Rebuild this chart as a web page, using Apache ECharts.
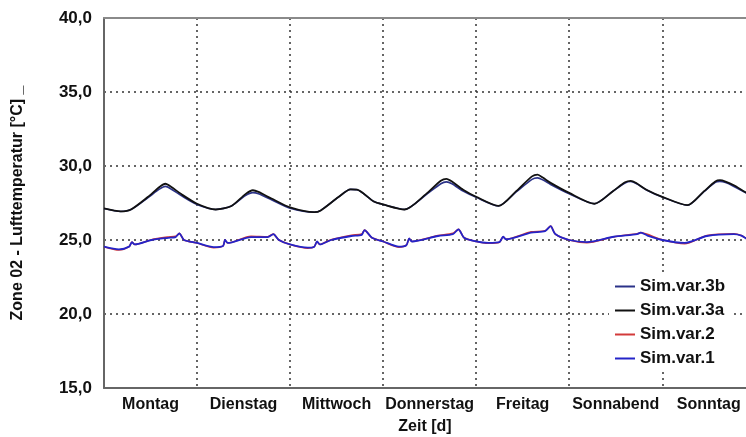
<!DOCTYPE html>
<html>
<head>
<meta charset="utf-8">
<script src="https://cdn.jsdelivr.net/npm/echarts@6/dist/echarts.min.js"></script>
<style>
html,body{margin:0;padding:0;background:#fff;}
#chart{width:746px;height:437px;}
</style>
</head>
<body>
<div id="chart"></div>
<script>
const days = ['Montag','Dienstag','Mittwoch','Donnerstag','Freitag','Sonnabend','Sonntag'];
const yTicks = [15, 20, 25, 30, 35, 40];
const visibleDays = 6.9; // the plot is cut off by the right edge of the picture
const seriesNames = ['Sim.var.3b','Sim.var.3a','Sim.var.2','Sim.var.1'];

const timeUpper = [0, 0.18, 0.29, 0.47, 0.60, 0.66, 0.72, 0.83, 1.00, 1.20, 1.37, 1.52, 1.60, 1.66, 1.80, 2.00, 2.26, 2.33, 2.52, 2.65, 2.72, 2.90, 3.00, 3.23, 3.46, 3.62, 3.68, 3.74, 3.86, 4.00, 4.24, 4.43, 4.60, 4.66, 4.72, 4.80, 5.00, 5.27, 5.47, 5.60, 5.66, 5.72, 5.83, 6.00, 6.27, 6.45, 6.57, 6.62, 6.68, 6.77, 6.91, 7.00];
const var3a = [27.13, 26.93, 27.06, 27.9, 28.6, 28.8, 28.6, 28.1, 27.45, 27.06, 27.3, 28.1, 28.36, 28.25, 27.8, 27.2, 26.88, 27.0, 27.9, 28.42, 28.4, 27.6, 27.4, 27.06, 28.1, 29.0, 29.13, 28.95, 28.4, 27.92, 27.3, 28.3, 29.3, 29.42, 29.2, 28.86, 28.18, 27.45, 28.3, 28.9, 29.0, 28.85, 28.4, 27.92, 27.35, 28.3, 28.95, 29.04, 28.95, 28.7, 28.18, 27.95];
const var3b = [27.13, 26.93, 27.06, 27.85, 28.45, 28.62, 28.45, 28.0, 27.4, 27.06, 27.3, 28.0, 28.2, 28.12, 27.72, 27.15, 26.88, 27.0, 27.9, 28.42, 28.4, 27.6, 27.4, 27.06, 28.05, 28.8, 28.93, 28.8, 28.3, 27.88, 27.3, 28.25, 29.1, 29.2, 29.05, 28.75, 28.12, 27.45, 28.3, 28.85, 28.95, 28.82, 28.38, 27.9, 27.35, 28.28, 28.9, 28.95, 28.88, 28.62, 28.15, 27.95];

const timeLower = [0.00, 0.16, 0.27, 0.30, 0.33, 0.51, 0.69, 0.77, 0.81, 0.86, 1.00, 1.18, 1.28, 1.30, 1.33, 1.58, 1.76, 1.82, 1.88, 2.00, 2.19, 2.26, 2.29, 2.32, 2.44, 2.66, 2.77, 2.80, 2.88, 3.00, 3.17, 3.25, 3.28, 3.31, 3.59, 3.75, 3.81, 3.87, 4.00, 4.13, 4.25, 4.29, 4.32, 4.59, 4.74, 4.80, 4.85, 5.00, 5.19, 5.48, 5.73, 5.77, 5.84, 6.00, 6.24, 6.48, 6.77, 6.85, 6.91, 7.00];
const var1 = [24.55, 24.37, 24.55, 24.86, 24.7, 25.0, 25.15, 25.2, 25.45, 25.0, 24.8, 24.52, 24.6, 25.0, 24.8, 25.2, 25.2, 25.4, 25.0, 24.7, 24.48, 24.55, 24.9, 24.7, 25.0, 25.27, 25.35, 25.67, 25.15, 24.9, 24.55, 24.65, 25.1, 24.9, 25.27, 25.4, 25.72, 25.15, 24.9, 24.8, 24.85, 25.22, 25.05, 25.5, 25.6, 25.94, 25.4, 25.0, 24.86, 25.22, 25.4, 25.5, 25.3, 25.0, 24.8, 25.27, 25.4, 25.3, 25.08, 24.95];
const var2 = [24.55, 24.32, 24.55, 24.86, 24.7, 25.02, 25.2, 25.25, 25.45, 25.0, 24.8, 24.48, 24.6, 25.0, 24.8, 25.25, 25.22, 25.4, 25.0, 24.7, 24.45, 24.55, 24.9, 24.7, 25.02, 25.32, 25.4, 25.67, 25.15, 24.9, 24.52, 24.65, 25.1, 24.9, 25.3, 25.45, 25.72, 25.15, 24.9, 24.78, 24.85, 25.22, 25.05, 25.55, 25.62, 25.94, 25.4, 25.0, 24.82, 25.22, 25.42, 25.5, 25.38, 25.02, 24.75, 25.3, 25.42, 25.3, 25.08, 24.95];

const colors = ['#2b3288', '#111111', '#d23a3a', '#2424c8'];
const pair = (ts, vs) => ts.map((t, i) => [t, vs[i]]);
const seriesData = [pair(timeUpper, var3b), pair(timeUpper, var3a), pair(timeLower, var2), pair(timeLower, var1)];

const FONT = 'Liberation Sans, Arial, sans-serif';
const dotted = { color: '#333', width: 1.5, type: [2, 4] };
const dayLabel = v => {
  const k = Math.floor(v);
  return (Math.abs(v - k - 0.5) < 1e-6 && k < days.length) ? days[k] : '';
};

const chart = echarts.init(document.getElementById('chart'), null, { renderer: 'canvas' });
chart.setOption({
  animation: false,
  backgroundColor: '#fff',
  grid: { left: 104, top: 18, right: 0, bottom: 49, containLabel: false, outerBoundsMode: 'none' },
  legend: {
    data: seriesNames,
    orient: 'vertical',
    left: 609, top: 274,
    padding: [4, 6],
    icon: 'rect',
    itemWidth: 20, itemHeight: 2, itemGap: 7,
    backgroundColor: '#fff',
    textStyle: { fontFamily: FONT, fontWeight: 'bold', fontSize: 17, color: '#111' }
  },
  xAxis: [
    {
      type: 'value', min: 0, max: visibleDays, interval: 0.5, position: 'bottom',
      name: 'Zeit [d]', nameLocation: 'middle', nameGap: 31,
      nameTextStyle: { fontFamily: FONT, fontWeight: 'bold', fontSize: 16, color: '#111' },
      axisLine: { show: true, onZero: false, lineStyle: { color: '#666', width: 2 } },
      axisTick: { show: false },
      axisLabel: { margin: 9, showMinLabel: false, showMaxLabel: false, fontFamily: FONT, fontWeight: 'bold', fontSize: 16, color: '#111', formatter: dayLabel },
      splitLine: { show: false }
    },
    {
      type: 'value', min: 0, max: visibleDays, interval: 1, position: 'top',
      axisLine: { show: true, onZero: false, lineStyle: { color: '#8a8a8a', width: 2 } },
      axisTick: { show: false },
      axisLabel: { show: false },
      splitLine: { show: true, showMinLine: false, showMaxLine: false, lineStyle: dotted }
    }
  ],
  yAxis: {
    type: 'value', min: yTicks[0], max: yTicks[yTicks.length - 1], interval: 5,
    name: 'Zone 02 - Lufttemperatur [°C] _', nameLocation: 'middle', nameGap: 78, nameRotate: 90,
    nameTextStyle: { fontFamily: FONT, fontWeight: 'bold', fontSize: 16, color: '#111' },
    axisLine: { show: true, lineStyle: { color: '#666', width: 2 } },
    axisTick: { show: false },
    axisLabel: { margin: 12, fontFamily: FONT, fontWeight: 'bold', fontSize: 17, color: '#111',
      formatter: v => v.toFixed(1).replace('.', ',') },
    splitLine: { show: true, showMinLine: false, showMaxLine: false, lineStyle: dotted }
  },
  series: seriesNames.map((n, i) => ({
    name: n, type: 'line', xAxisIndex: 0, data: seriesData[i],
    symbol: 'none', smooth: 0.25,
    lineStyle: { color: colors[i], width: i === 0 || i === 2 ? 1.6 : 1.8 },
    itemStyle: { color: colors[i] }
  }))
});
</script>
</body>
</html>
